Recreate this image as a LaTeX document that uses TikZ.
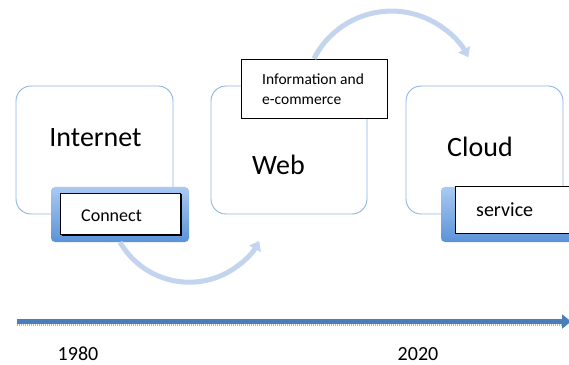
\documentclass[tikz,border=0pt]{standalone}
\usepackage{fontspec}
\setmainfont{Carlito}
\usetikzlibrary{arrows.meta,shadows}
\definecolor{boxline}{HTML}{8EB4E3}
\definecolor{arcblue}{HTML}{C3D5EE}
\definecolor{lineblue}{HTML}{4A7EBB}
\definecolor{tabtop}{HTML}{A9C9F2}
\definecolor{tabbot}{HTML}{5B93D8}
\begin{document}
\begin{tikzpicture}[x=1pt,y=1pt,
  stage/.style={draw=boxline, line width=0.9pt, rounded corners=15pt, minimum width=157pt, minimum height=128pt, inner sep=0pt, fill=white},
  tab/.style={rounded corners=4pt, top color=tabtop, bottom color=tabbot, minimum height=55pt, inner sep=0pt},
  tagbox/.style={draw=black, line width=0.8pt, fill=white, inner sep=0pt, drop shadow={shadow xshift=1.5pt, shadow yshift=-1.5pt, fill=black, opacity=1}},
  infobox/.style={draw=black, line width=0.8pt, fill=white, inner sep=0pt},
  bigtext/.style={font=\fontsize{28}{34}\selectfont, inner sep=0pt},
  midtext/.style={font=\fontsize{18}{22}\selectfont, inner sep=0pt},
  servtext/.style={font=\fontsize{20}{24}\selectfont, inner sep=0pt},
  smalltext/.style={font=\fontsize{15.5}{19.5}\selectfont, inner sep=0pt},
  yeartext/.style={font=\fontsize{20}{24}\selectfont, inner sep=0pt},
  arcarrow/.style={arcblue, line width=5pt, -{Triangle[width=13pt,length=9pt]}},
]
\useasboundingbox (0,0) rectangle (569,364);
% stage boxes
\node[stage] (internet) at (94.5,214) {};
\node[stage, minimum width=156pt] (web) at (289,214) {};
\node[stage] (cloud) at (484.5,214) {};
\node[bigtext, anchor=base] (tinternet) at (95.5,217) {Internet};
\node[bigtext, anchor=base] (tweb) at (278.5,189) {Web};
\node[bigtext, anchor=base] (tcloud) at (480,207) {Cloud};
% connect tab
\node[tab, minimum width=138pt] (conntab) at (120,149.5) {};
\node[tagbox, minimum width=120pt, minimum height=41pt] (connbox) at (120,150.5) {};
\node[midtext, anchor=base west] (tconn) at (81,142.3) {Connect};
% service tab
\node[tab, minimum width=160pt] (servtab) at (521,149.5) {};
\node[tagbox, minimum width=135pt, minimum height=47pt] (servbox) at (522.5,154.5) {};
\node[servtext, anchor=base west] (tserv) at (476,147.3) {service};
% info box
\node[infobox, minimum width=146pt, minimum height=59pt] (info) at (314,275.5) {};
\node[smalltext, anchor=base west] (tinfo1) at (262,279) {Information and};
\node[smalltext, anchor=base west] (tinfo2) at (262,259.5) {e-commerce};
% curved arrows
\draw[arcarrow] (info.north) arc[start angle=153, end angle=28, radius=87pt];
\draw[arcarrow] (conntab.south) arc[start angle=210, end angle=331, radius=80pt];
% timeline
\coordinate (tstart) at (17,42.5);
\coordinate (tend) at (571,42.5);
\coordinate (sstart) at (17,39);
\coordinate (send) at (563,39);
\draw[gray!55, line width=1.8pt, dash pattern=on 1pt off 1pt] (sstart) -- (send);
\draw[lineblue, line width=4.2pt, -{Triangle[width=14pt,length=9pt]}] (tstart) -- (tend);
\node[yeartext, anchor=base] (y1980) at (78,4) {1980};
\node[yeartext, anchor=base] (y2020) at (418,4) {2020};
\end{tikzpicture}
\end{document}
